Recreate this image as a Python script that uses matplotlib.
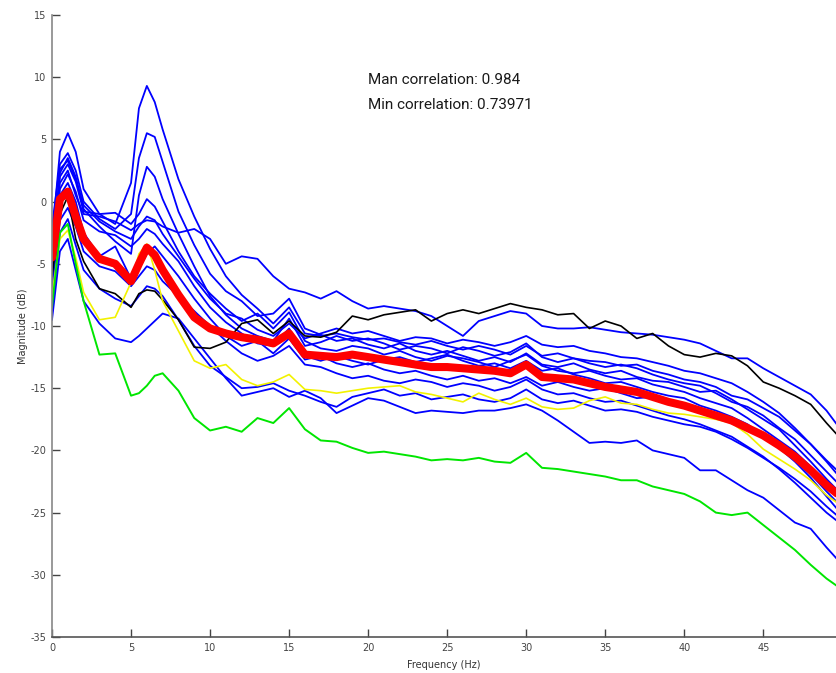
import numpy as np
import matplotlib
matplotlib.use("Agg")
import matplotlib.pyplot as plt

plt.rcParams["axes.unicode_minus"] = False

# frequency grid (Hz) shared by all spectra
freq = [0, 0.5, 1, 1.5, 2, 3, 4, 5, 5.5, 6, 6.5, 7, 8, 9, 10,
        11, 12, 13, 14, 15, 16, 17, 18, 19, 20, 21, 22, 23, 24, 25,
        26, 27, 28, 29, 30, 31, 32, 33, 34, 35, 36, 37, 38, 39, 40,
        41, 42, 43, 44, 45, 46, 47, 48, 49, 50]

# individual subject spectra (dB)
blue_hi = [-6, 1.5, 2.5, 0.5, -1.0, -1.2, -1.6, -2.3, -1.8, -1.5, -1.6, -2.0, -2.5, -2.2, -3.0,
           -5.0, -4.4, -4.6, -6.0, -7.0, -7.3, -7.8, -7.2, -8.0, -8.6, -8.4, -8.6, -8.8, -9.2, -10.0,
           -10.8, -9.6, -9.2, -8.8, -9.0, -10.0, -10.2, -10.2, -10.1, -10.3, -10.5, -10.6, -10.7, -10.9, -11.1,
           -11.4, -12.0, -12.6, -12.6, -13.4, -14.1, -14.8, -15.5, -16.8, -18.5]
blue_1 = [-3, 4.0, 5.5, 4.0, 1.0, -1.0, -1.8, 1.5, 7.5, 9.3, 8.0, 5.8, 1.8, -1.2, -3.8,
          -6.0, -7.5, -8.6, -9.8, -8.5, -10.6, -10.8, -10.6, -10.9, -11.1, -11.0, -11.3, -11.5, -11.2, -11.6,
          -11.9, -11.6, -11.9, -12.3, -11.6, -12.4, -12.2, -12.6, -12.8, -12.9, -13.2, -13.1, -13.6, -13.9, -14.3,
          -14.5, -14.9, -15.6, -15.9, -16.6, -17.3, -18.4, -19.5, -20.8, -22.0]
blue_2 = [-2, 3.0, 3.9, 2.5, 0.0, -1.4, -2.2, -1.0, 3.5, 5.5, 5.2, 3.2, -0.8, -3.5, -5.8,
          -7.2, -8.0, -9.2, -9.0, -7.8, -10.2, -10.7, -11.2, -11.0, -11.5, -11.8, -11.4, -12.0, -12.3, -12.0,
          -12.4, -12.8, -12.5, -12.9, -12.2, -13.1, -13.3, -13.0, -13.5, -13.8, -13.6, -14.1, -14.4, -14.5, -14.9,
          -15.3, -15.2, -15.9, -16.7, -17.5, -18.3, -19.6, -20.9, -22.3, -23.6]
blue_3 = [-5, 2.3, 3.5, 2.0, -0.6, -2.0, -3.2, -4.2, 0.5, 2.8, 2.0, 0.2, -2.6, -5.2, -7.6,
          -9.1, -10.2, -10.8, -11.2, -9.4, -11.6, -11.3, -10.8, -11.2, -11.0, -11.4, -11.9, -11.6, -11.8, -12.2,
          -11.7, -12.0, -12.4, -12.1, -11.4, -12.5, -12.9, -12.6, -13.0, -13.3, -13.1, -13.4, -13.9, -14.3, -14.6,
          -14.8, -15.4, -16.1, -16.5, -17.2, -18.2, -19.1, -20.4, -21.7, -23.0]
blue_4 = [-4, 2.0, 3.0, 1.6, -0.8, -1.0, -0.9, -1.8, -1.0, 0.2, -0.4, -1.6, -4.0, -6.0, -7.4,
          -8.6, -9.6, -9.0, -10.2, -8.9, -11.2, -11.8, -12.0, -11.6, -11.8, -12.3, -12.0, -12.5, -12.8, -12.4,
          -12.6, -12.9, -13.3, -12.8, -12.3, -13.2, -13.6, -13.8, -13.6, -14.0, -14.3, -14.2, -14.7, -15.0, -15.3,
          -15.8, -16.2, -16.6, -17.4, -18.3, -19.2, -20.1, -21.3, -22.7, -24.1]
blue_5 = [-7, 1.0, 2.2, 0.8, -1.5, -2.4, -2.7, -3.6, -3.0, -2.2, -2.6, -3.4, -4.8, -6.8, -8.5,
          -9.7, -10.6, -11.4, -11.6, -10.2, -12.4, -12.8, -12.4, -12.8, -13.1, -12.7, -12.5, -12.9, -12.6, -12.3,
          -12.8, -13.2, -13.0, -13.4, -12.8, -13.6, -13.4, -13.9, -14.2, -14.6, -14.5, -14.9, -15.3, -15.6, -15.8,
          -16.4, -16.8, -17.3, -17.9, -18.8, -19.7, -20.8, -21.9, -23.3, -24.6]
blue_6 = [-8, 0.5, 1.5, 0.0, -2.5, -4.4, -3.6, -6.2, -5.4, -4.2, -3.6, -4.4, -6.0, -7.8, -9.4,
          -10.8, -11.6, -11.2, -12.2, -11.0, -12.7, -12.4, -13.0, -13.3, -13.0, -13.5, -13.8, -13.6, -14.0, -14.3,
          -14.0, -14.4, -14.2, -14.6, -14.1, -14.8, -14.5, -14.9, -15.2, -15.0, -15.4, -15.8, -15.7, -16.1, -16.4,
          -16.6, -17.1, -17.5, -18.2, -18.9, -19.8, -20.9, -22.2, -23.7, -25.2]
blue_7 = [-7.5, -1.5, -0.5, -2.0, -4.0, -5.2, -5.6, -6.8, -6.0, -5.2, -5.5, -6.4, -7.6, -8.8, -10.0,
          -11.2, -12.2, -12.8, -12.4, -11.6, -13.1, -13.3, -13.8, -14.2, -14.0, -14.4, -14.6, -14.3, -14.5, -14.9,
          -14.6, -14.8, -15.2, -14.9, -14.3, -15.1, -15.5, -15.4, -15.8, -16.1, -16.0, -16.4, -16.8, -17.2, -17.5,
          -17.9, -18.4, -18.9, -19.7, -20.5, -21.5, -22.6, -23.8, -25.0, -26.0]
blue_8 = [-9, -2.5, -1.4, -3.5, -5.5, -7.0, -7.8, -8.4, -7.6, -6.8, -7.0, -7.6, -9.5, -11.6, -13.2,
          -14.1, -15.0, -14.9, -14.6, -15.2, -15.6, -16.1, -16.5, -15.7, -15.4, -15.1, -15.6, -15.4, -15.9, -15.7,
          -15.5, -15.9, -16.1, -15.8, -15.1, -15.9, -16.2, -16.0, -16.4, -16.8, -16.7, -16.9, -17.3, -17.6, -17.9,
          -18.1, -18.5, -19.1, -19.8, -20.6, -21.4, -22.3, -23.3, -24.5, -25.6]
blue_9 = [-6, 2.6, 3.3, 1.8, -0.3, -1.6, -2.4, -3.0, -2.0, -1.2, -1.5, -2.6, -4.4, -6.2, -7.8,
          -9.0, -9.4, -10.3, -10.8, -9.8, -11.0, -10.6, -10.2, -10.6, -10.4, -10.8, -11.2, -10.9, -11.0, -11.4,
          -11.1, -11.3, -11.6, -11.3, -10.8, -11.5, -11.7, -11.6, -12.0, -12.2, -12.5, -12.6, -12.9, -13.2, -13.6,
          -13.8, -14.2, -14.6, -15.3, -16.1, -17.0, -18.2, -19.5, -20.9, -22.4]
blue_low = [-9.5, -4.0, -3.0, -5.5, -8.0, -9.8, -11.0, -11.3, -10.8, -10.2, -9.6, -9.0, -9.4, -11.0, -12.6,
            -14.2, -15.6, -15.3, -15.0, -15.7, -15.2, -15.8, -17.0, -16.4, -15.8, -16.0, -16.5, -17.0, -16.8, -16.9,
            -17.0, -16.8, -16.8, -16.6, -16.3, -16.8, -17.6, -18.5, -19.4, -19.3, -19.4, -19.2, -20.0, -20.3, -20.6,
            -21.6, -21.6, -22.4, -23.2, -23.8, -24.8, -25.8, -26.3, -27.8, -29.2]

black = [-6, -1, 0.4, -3.0, -4.8, -7.0, -7.4, -8.5, -7.4, -7.1, -7.2, -7.9, -9.5, -11.7, -11.8,
         -11.3, -9.8, -9.5, -10.6, -9.6, -10.8, -10.9, -10.5, -9.2, -9.5, -9.1, -8.9, -8.7, -9.6, -9.0,
         -8.7, -9.0, -8.6, -8.2, -8.5, -8.7, -9.1, -9.0, -10.2, -9.6, -10.0, -11.0, -10.6, -11.6, -12.3,
         -12.5, -12.2, -12.4, -13.2, -14.5, -15.0, -15.6, -16.3, -17.8, -19.2]
yellow = [-7.5, -3, -2.3, -4.5, -7.3, -9.5, -9.3, -6.5, -4.2, -3.4, -5.5, -8.0, -10.4, -12.8, -13.4,
          -13.1, -14.3, -14.8, -14.5, -13.9, -15.1, -15.2, -15.4, -15.2, -15.0, -14.9, -14.8, -15.3, -15.5, -15.8,
          -16.1, -15.4, -15.9, -16.3, -15.8, -16.5, -16.7, -16.6, -16.0, -15.7, -16.2, -16.3, -16.7, -17.0, -17.1,
          -17.3, -17.5, -17.8, -18.7, -19.9, -20.7, -21.5, -22.4, -23.6, -24.5]
green = [-8.5, -2.5, -1.8, -5, -8, -12.3, -12.2, -15.6, -15.4, -14.8, -14.0, -13.8, -15.2, -17.4, -18.4,
         -18.1, -18.5, -17.4, -17.8, -16.6, -18.3, -19.2, -19.3, -19.8, -20.2, -20.1, -20.3, -20.5, -20.8, -20.7,
         -20.8, -20.6, -20.9, -21.0, -20.2, -21.4, -21.5, -21.7, -21.9, -22.1, -22.4, -22.4, -22.9, -23.2, -23.5,
         -24.1, -25.0, -25.2, -25.0, -26.0, -27.0, -28.0, -29.2, -30.3, -31.2]
# grand average
red = [-4.5, 0.2, 0.8, -1.2, -3.0, -4.6, -5.0, -6.4, -5.0, -3.7, -4.3, -5.5, -7.5, -9.3, -10.2,
       -10.6, -10.9, -11.1, -11.4, -10.6, -12.3, -12.4, -12.5, -12.3, -12.5, -12.7, -12.9, -13.1, -13.3, -13.3,
       -13.4, -13.5, -13.6, -13.8, -13.1, -14.1, -14.2, -14.3, -14.6, -14.9, -15.1, -15.3, -15.7, -16.1, -16.4,
       -16.8, -17.2, -17.6, -18.2, -18.8, -19.6, -20.5, -21.6, -22.8, -23.8]

blues = [blue_hi, blue_1, blue_2, blue_3, blue_4, blue_5, blue_6, blue_7,
         blue_8, blue_9, blue_low]

x_ticks = [0, 5, 10, 15, 20, 25, 30, 35, 40, 45]
y_ticks = [15, 10, 5, 0, -5, -10, -15, -20, -25, -30, -35]

fig = plt.figure(figsize=(8.36, 6.73), dpi=100)
ax = fig.add_axes([52 / 836, 36 / 673, 784 / 836, 622 / 673])

for b in blues:
    ax.plot(freq, b, color="#0000ff", lw=1.3, solid_joinstyle="round")
ax.plot(freq, black, color="black", lw=1.2)
ax.plot(freq, yellow, color="#f2f200", lw=1.2)
ax.plot(freq, green, color="#00e600", lw=1.4)
ax.plot(freq, red, color="#ff0000", lw=5.8, solid_capstyle="round",
        solid_joinstyle="round")

ax.set_xlim(0, 49.6)
ax.set_ylim(-35, 15)
ax.set_xticks(x_ticks)
ax.set_yticks(y_ticks)
ax.tick_params(direction="in", length=6, width=1, labelsize=7,
               colors="#444444", pad=4)
for s in ("top", "right"):
    ax.spines[s].set_visible(False)
ax.spines["left"].set_color("#888888")
ax.spines["bottom"].set_color("#555555")
ax.spines["left"].set_linewidth(1.2)
ax.spines["bottom"].set_linewidth(1.2)

ax.set_xlabel("Frequency (Hz)", fontsize=7, color="#333333", labelpad=5)
ax.set_ylabel("Magnitude (dB)", fontsize=7, color="#333333", labelpad=2)

ax.text(20.0, 9.75, "Man correlation: 0.984", fontsize=11, family="Roboto",
        va="center", ha="left", color="#1a1a1a")
ax.text(20.0, 7.75, "Min correlation: 0.73971", fontsize=11, family="Roboto",
        va="center", ha="left", color="#1a1a1a")

fig.savefig("out.png", dpi=100, facecolor="white")
